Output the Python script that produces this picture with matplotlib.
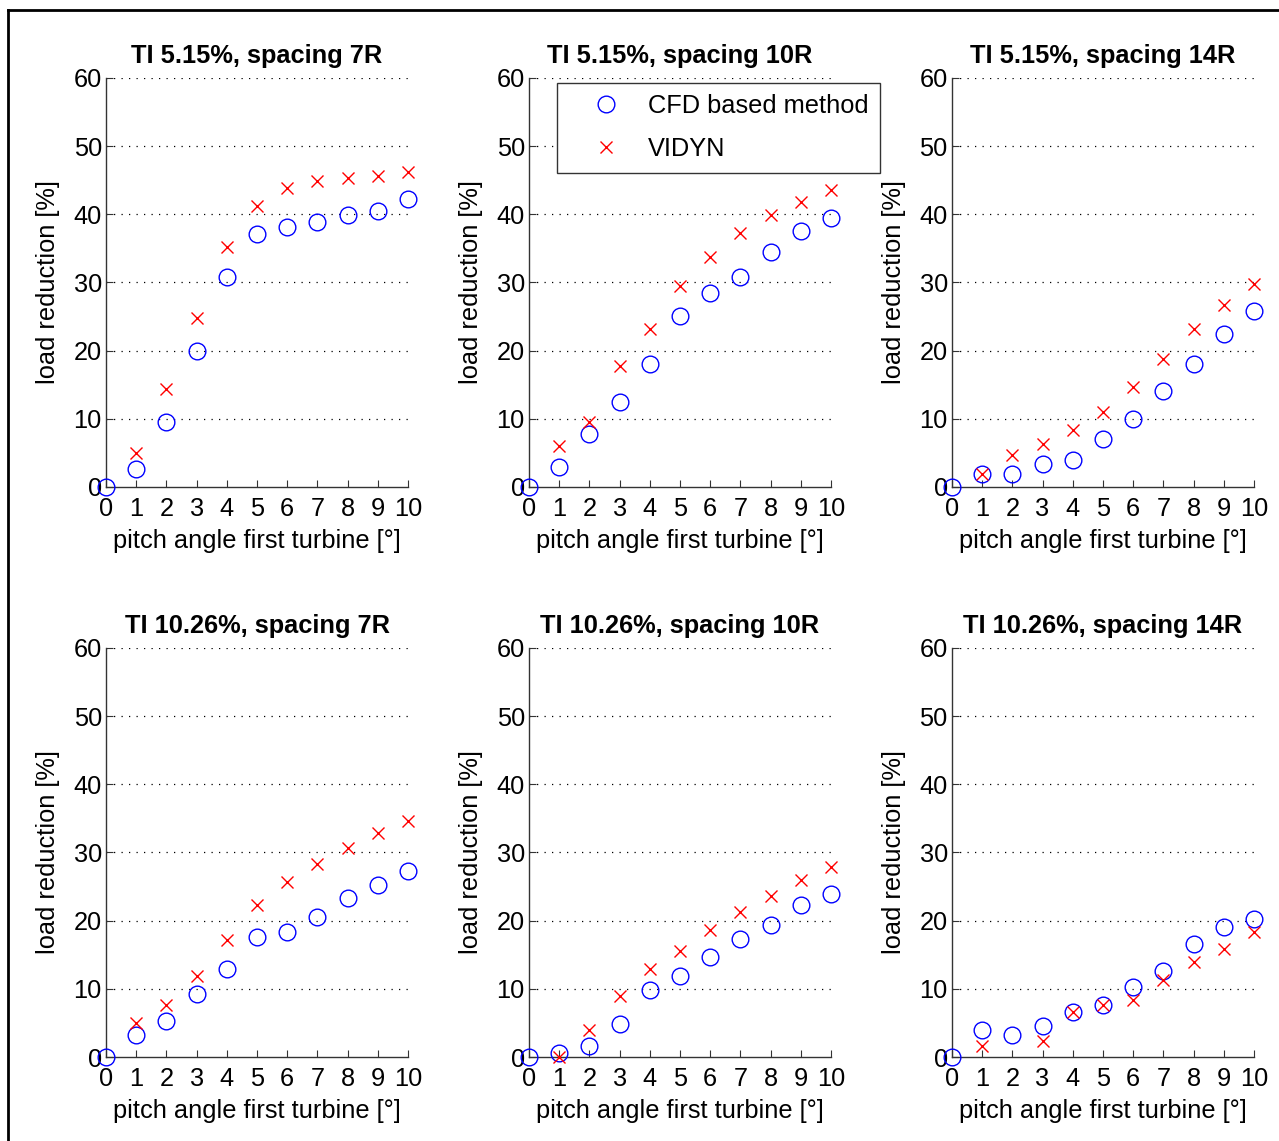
import numpy as np
import matplotlib.pyplot as plt
from matplotlib.lines import Line2D

plt.rcParams['font.family'] = ['Liberation Sans', 'DejaVu Sans']

pitch = np.arange(0, 11)

titles = [
    "TI 5.15%, spacing 7R", "TI 5.15%, spacing 10R", "TI 5.15%, spacing 14R",
    "TI 10.26%, spacing 7R", "TI 10.26%, spacing 10R", "TI 10.26%, spacing 14R",
]

# CFD based method, load reduction [%] at pitch 0..10
cfd_ti5_7r = [0, 2.6, 9.6, 20.0, 30.8, 37.1, 38.2, 38.9, 39.9, 40.5, 42.2]
cfd_ti5_10r = [0, 3.0, 7.7, 12.4, 18.0, 25.1, 28.5, 30.8, 34.5, 37.5, 39.5]
cfd_ti5_14r = [0, 1.9, 1.9, 3.3, 4.0, 7.0, 10.0, 14.1, 18.0, 22.4, 25.8]
cfd_ti10_7r = [0, 3.3, 5.3, 9.3, 12.9, 17.6, 18.3, 20.6, 23.3, 25.3, 27.3]
cfd_ti10_10r = [0, 0.6, 1.6, 4.9, 9.9, 11.9, 14.6, 17.3, 19.3, 22.3, 23.9]
cfd_ti10_14r = [0, 3.9, 3.3, 4.6, 6.6, 7.6, 10.3, 12.6, 16.6, 19.0, 20.3]

# VIDYN, load reduction [%] at pitch 0..10 (nan = not shown)
nan = np.nan
vid_ti5_7r = [nan, 5.0, 14.4, 24.8, 35.2, 41.2, 43.9, 44.9, 45.3, 45.6, 46.2]
vid_ti5_10r = [nan, 6.0, 9.6, 17.7, 23.1, 29.5, 33.8, 37.2, 39.9, 41.8, 43.5]
vid_ti5_14r = [nan, 1.9, 4.7, 6.3, 8.3, 11.0, 14.7, 18.8, 23.1, 26.7, 29.8]
vid_ti10_7r = [nan, 5.0, 7.6, 11.9, 17.2, 22.3, 25.6, 28.3, 30.6, 32.9, 34.6]
vid_ti10_10r = [nan, 0.0, 3.9, 9.0, 12.9, 15.6, 18.6, 21.3, 23.6, 25.9, 27.9]
vid_ti10_14r = [nan, 1.6, nan, 2.3, 6.6, 7.6, 8.3, 11.3, 13.9, 15.9, 18.3]

cfd_all = [cfd_ti5_7r, cfd_ti5_10r, cfd_ti5_14r, cfd_ti10_7r, cfd_ti10_10r, cfd_ti10_14r]
vid_all = [vid_ti5_7r, vid_ti5_10r, vid_ti5_14r, vid_ti10_7r, vid_ti10_10r, vid_ti10_14r]

fig = plt.figure(figsize=(12.79, 11.41), dpi=100)

lefts = [0.0829, 0.4136, 0.7443]
bottoms = [0.5732, 0.0736]
w, h = 0.2361, 0.3585
fs = 18.3

for k in range(6):
    r, c = divmod(k, 3)
    ax = fig.add_axes([lefts[c], bottoms[r], w, h])
    ax.plot(pitch, cfd_all[k], ls='none', marker='o', ms=12, mfc='none',
            mec='#0000ff', mew=1.0, label='CFD based method', clip_on=False, zorder=3)
    ax.plot(pitch, vid_all[k], ls='none', marker='x', ms=8, mec='#ff0000',
            mew=1.0, label='VIDYN', clip_on=False, zorder=3)
    ax.set_xlim(0, 10)
    ax.set_ylim(0, 60)
    ax.set_xticks(range(0, 11))
    ax.set_yticks(range(0, 61, 10))
    for yv in range(10, 61, 10):
        ax.axhline(yv, color='black', ls=(0, (1, 5)), lw=0.9, zorder=1)
    for s in ['top', 'right']:
        ax.spines[s].set_visible(False)
    for s in ['left', 'bottom']:
        ax.spines[s].set_color('#333333')
        ax.spines[s].set_linewidth(1.0)
    ax.tick_params(direction='in', length=5, width=0.8, labelsize=fs,
                   color='#333333')
    ax.tick_params(axis='x', pad=7)
    ax.tick_params(axis='y', pad=3)
    ax.set_xlabel("pitch angle first turbine [°]", fontsize=fs, labelpad=6)
    ax.set_ylabel("load reduction [%]", fontsize=fs, labelpad=10)
    ax.set_title(titles[k], fontsize=fs, fontweight='bold', pad=11)
    if k == 1:
        leg = ax.legend(loc='upper left', bbox_to_anchor=(0.093, 0.988),
                        borderaxespad=0, fontsize=fs, frameon=True,
                        fancybox=False, edgecolor='#333333', framealpha=1.0,
                        handletextpad=0.15, borderpad=0.45, labelspacing=0.75,
                        handlelength=2.96)
        leg.get_frame().set_linewidth(1.0)
        leg.set_zorder(5)

# outer frame of the figure (left and top edges)
fig.add_artist(Line2D([8 / 1279, 8 / 1279], [0, 1 - 10 / 1141], color='black',
                      lw=2, transform=fig.transFigure))
fig.add_artist(Line2D([8 / 1279, 1], [1 - 10 / 1141, 1 - 10 / 1141], color='black',
                      lw=2, transform=fig.transFigure))

fig.savefig("out.png", dpi=100)
